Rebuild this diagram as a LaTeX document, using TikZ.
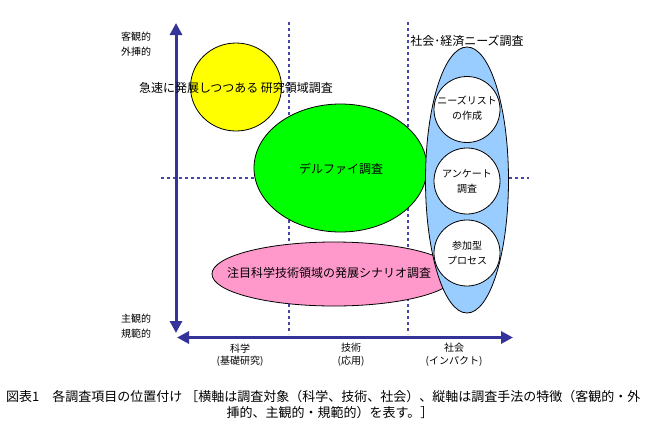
\documentclass[tikz,border=0pt]{standalone}
\usepackage{fontspec}
\setmainfont{Noto Sans CJK JP}
\usetikzlibrary{arrows.meta,shapes.geometric}
\definecolor{axisblue}{RGB}{51,51,153}
\definecolor{dashblue}{RGB}{70,70,170}
\definecolor{yel}{RGB}{255,255,0}
\definecolor{grn}{RGB}{0,255,0}
\definecolor{pnk}{RGB}{255,153,204}
\definecolor{lblue}{RGB}{153,204,255}
\tikzset{
  axisarrow/.style={draw=axisblue, line width=3pt, {Triangle[length=12pt,width=12pt]}-{Triangle[length=12pt,width=12pt]}},
  gridline/.style={draw=dashblue, line width=1.3pt, dash pattern=on 3pt off 3pt},
  blob/.style={draw=black, line width=0.8pt, ellipse, inner sep=0pt},
  bigtext/.style={font=\fontsize{12}{14}\selectfont, inner sep=0pt},
  smalltext/.style={font=\fontsize{10}{15}\selectfont, align=center, inner sep=0pt},
  axlabel/.style={font=\fontsize{10}{12.5}\selectfont, align=center, inner sep=0pt},
  captext/.style={font=\fontsize{13}{16}\selectfont, inner sep=0pt}
}
\begin{document}
\begin{tikzpicture}[x=1pt,y=-1pt]
\useasboundingbox (0,0) rectangle (667,424);
% grid coordinates
\coordinate (v1t) at (289,22); \coordinate (v1b) at (289,334);
\coordinate (v2t) at (408,22); \coordinate (v2b) at (408,334);
\coordinate (hl) at (161,178); \coordinate (hr) at (529,178);
\draw[gridline] (v1t) -- (v1b);
\draw[gridline] (v2t) -- (v2b);
\draw[gridline] (hl) -- (hr);
% axes
\coordinate (ytop) at (176,23); \coordinate (ybot) at (176,333);
\coordinate (xleft) at (177,337.5); \coordinate (xright) at (513,337.5);
\draw[axisarrow] (ytop) -- (ybot);
\draw[axisarrow] (xleft) -- (xright);
% shapes
\node[blob, fill=yel, minimum width=91pt, minimum height=88pt] (yellow) at (236,87) {};
\node[blob, fill=grn, minimum width=173pt, minimum height=128pt] (green) at (340.5,168) {};
\node[blob, fill=pnk, minimum width=244pt, minimum height=64pt] (pink) at (334,274) {};
\node[blob, fill=lblue, minimum width=83pt, minimum height=266pt] (blue) at (467,180) {};
\node[blob, circle, fill=white, minimum size=66pt] (c1) at (467,109.5) {};
\node[blob, circle, fill=white, minimum size=66pt] (c2) at (467,181) {};
\node[blob, circle, fill=white, minimum size=66pt] (c3) at (467,253) {};
% texts
\node[bigtext] (tyellow) at (236,88) {急速に発展しつつある 研究領域調査};
\node[bigtext] (tgreen) at (341,169) {デルファイ調査};
\node[bigtext] (tpink) at (329,273) {注目科学技術領域の発展シナリオ調査};
\node[bigtext] (tblue) at (467,41) {社会･経済ニーズ調査};
\node[smalltext] (tc1) at (467,108) {ニーズリスト\\の作成};
\node[smalltext] (tc2) at (467,181) {アンケート\\調査};
\node[smalltext] (tc3) at (467,253) {参加型\\プロセス};
% axis labels
\node[smalltext] (yl1) at (136,44.5) {客観的\\外挿的};
\node[smalltext] (yl2) at (136,326.5) {主観的\\規範的};
\node[axlabel] (xl1) at (240,355) {科学\\(基礎研究)};
\node[axlabel] (xl2) at (351,355) {技術\\(応用)};
\node[axlabel] (xl3) at (454,355) {社会\\(インパクト)};
% caption
\node[captext, anchor=west] (cap1) at (6,397) {図表1　各調査項目の位置付け ［横軸は調査対象（科学、技術、社会）、縦軸は調査手法の特徴（客観的・外};
\node[captext] (cap2) at (330,413) {挿的、主観的・規範的）を表す。］};
\end{tikzpicture}
\end{document}
